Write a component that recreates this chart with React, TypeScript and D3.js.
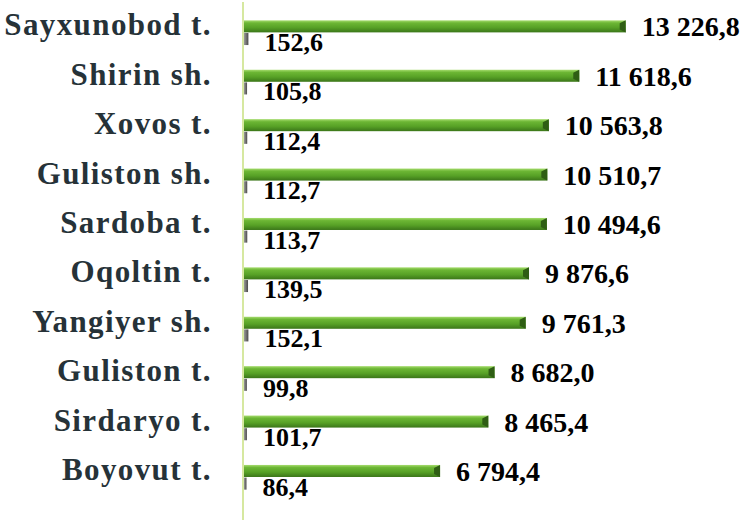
import React from "react";
import * as d3 from "d3";

// --- Data
const categories = [
  "Sayxunobod t.",
  "Shirin sh.",
  "Xovos t.",
  "Guliston sh.",
  "Sardoba t.",
  "Oqoltin t.",
  "Yangiyer sh.",
  "Guliston t.",
  "Sirdaryo t.",
  "Boyovut t.",
];
const bigValues = [13226.8, 11618.6, 10563.8, 10510.7, 10494.6, 9876.6, 9761.3, 8682.0, 8465.4, 6794.4];
const smallValues = [152.6, 105.8, 112.4, 112.7, 113.7, 139.5, 152.1, 99.8, 101.7, 86.4];
const seriesKeys = ["big", "small"];

const width = 746;
const height = 520;
const font = "Liberation Serif, Tinos, Times New Roman, DejaVu Serif, serif";

const fmt = d3
  .formatLocale({ decimal: ",", thousands: " ", grouping: [3], currency: ["", ""] })
  .format(",.1f");

const App: React.FC = () => {
  const x = d3.scaleLinear().domain([0, 14000]).range([244, 648]);
  const y = d3
    .scaleBand<string>()
    .domain(categories)
    .range([8, 502])
    .paddingInner(0.5)
    .paddingOuter(0.25);
  const sub = d3
    .scaleBand<string>()
    .domain(seriesKeys)
    .range([0, y.bandwidth()])
    .paddingInner(0.05);

  const rows = categories.map((c, i) => ({ c, big: bigValues[i], small: smallValues[i] }));
  const bh = sub.bandwidth();

  return (
    <svg
      width={width}
      height={height}
      style={{ position: "absolute", left: 0, top: 0, background: "#fff" }}
    >
      <defs>
        <linearGradient id="greenGrad" x1="0" y1="0" x2="0" y2="1">
          <stop offset="0%" stopColor="#a6dc6e" />
          <stop offset="22%" stopColor="#6cb634" />
          <stop offset="60%" stopColor="#57a126" />
          <stop offset="100%" stopColor="#3b7619" />
        </linearGradient>
        <linearGradient id="greyGrad" x1="0" y1="0" x2="1" y2="0">
          <stop offset="0%" stopColor="#9a9a9a" />
          <stop offset="100%" stopColor="#4a4a4a" />
        </linearGradient>
      </defs>

      {/* axis line */}
      <line x1={243} x2={243} y1={2} y2={height} stroke="#d6e8a0" strokeWidth={2} />

      {rows.map((d) => {
        const y0 = (y(d.c) ?? 0) + (sub("big") ?? 0);
        const y1 = (y(d.c) ?? 0) + (sub("small") ?? 0);
        const xe = x(d.big);
        const xs = x(d.small);
        return (
          <g key={d.c}>
            <text
              x={212}
              y={y0 + bh / 2 + 9}
              textAnchor="end"
              style={{ fontFamily: font, fontWeight: "bold", fontSize: 31, letterSpacing: 1.4 }}
              fill="#263238"
            >
              {d.c}
            </text>

            {/* big bar */}
            <rect x={x(0)} y={y0} width={xe - x(0)} height={bh} fill="url(#greenGrad)" />
            <polygon
              points={`${xe - 6},${y0 + 3} ${xe},${y0} ${xe},${y0 + bh} ${xe - 6},${y0 + bh - 3}`}
              fill="#2f5e14"
            />
            <text
              x={xe + 16}
              y={y0 + bh / 2 + 10}
              style={{ fontFamily: font, fontWeight: "bold", fontSize: 28 }}
              fill="#000"
            >
              {fmt(d.big)}
            </text>

            {/* small bar */}
            <rect x={x(0)} y={y1} width={xs - x(0)} height={bh} fill="url(#greyGrad)" />
            <text
              x={xs + 16}
              y={y1 + bh / 2 + 12}
              style={{ fontFamily: font, fontWeight: "bold", fontSize: 26 }}
              fill="#000"
            >
              {fmt(d.small)}
            </text>
          </g>
        );
      })}
    </svg>
  );
};

export default App;
